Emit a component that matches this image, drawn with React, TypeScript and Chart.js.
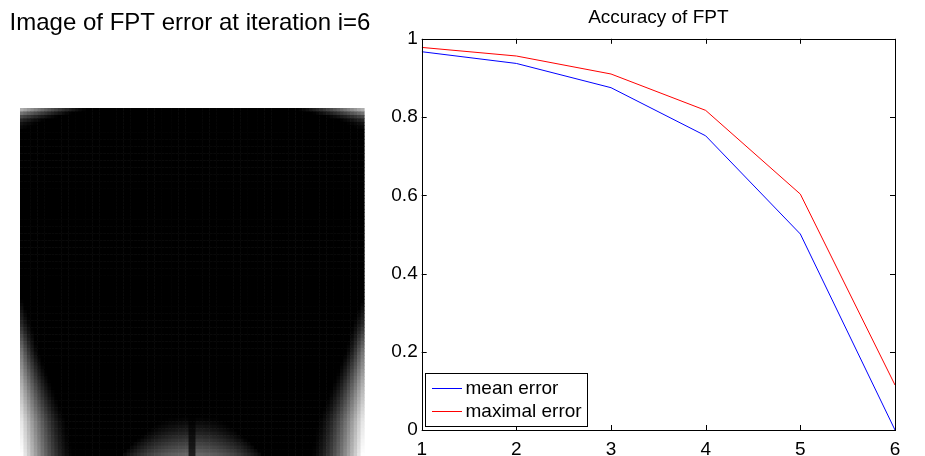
import React, { useEffect, useRef } from "react";
import { Chart, registerables } from "chart.js";

Chart.register(...registerables);

const FONT = "'Liberation Sans', Arial, Helvetica, sans-serif";

// ---- right panel data ----
const iterations = [1, 2, 3, 4, 5, 6];
const meanError = [0.967, 0.937, 0.875, 0.752, 0.501, 0.0];
const maximalError = [0.978, 0.956, 0.91, 0.817, 0.603, 0.115];
const xTicks = [1, 2, 3, 4, 5, 6];
const yTicks = [0, 0.2, 0.4, 0.6, 0.8, 1];
const seriesLabels = ["mean error", "maximal error"];
const seriesColors = ["#0000ff", "#ff0000"];
const leftTitle = "Image of FPT error at iteration i=6";
const rightTitle = "Accuracy of FPT";

// ---- left panel image (grey levels) ----
const imageCols = 100;
const imageRows = 100;
// glow along left/right edges: at row -> edge grey level, reach in cells
const sideGlowRow = [0, 55, 62, 70, 80, 90, 100];
const sideGlowPeak = [0, 0, 0.15, 0.45, 0.7, 0.9, 1.0];
const sideGlowReach = [0, 0, 3, 5, 9, 13, 15];
// glow in the two top corners: per top row -> grey level, reach in cells
const topGlowPeak = [0.68, 0.45, 0.28, 0.15, 0.07, 0.03];
const topGlowReach = [19, 15, 11, 7, 5, 3];
// glow at the bottom centre
const bottomGlowRow = [89, 93, 97, 100];
const bottomGlowPeak = [0, 0.12, 0.28, 0.42];
const bottomGlowHalf = [8, 13, 18, 21];
const bottomGlowCenter = 50;

function interp(xs: number[], ys: number[], v: number) {
  if (v <= xs[0]) return ys[0];
  for (let i = 1; i < xs.length; i++) {
    if (v <= xs[i]) {
      const t = (v - xs[i - 1]) / (xs[i] - xs[i - 1]);
      return ys[i - 1] + t * (ys[i] - ys[i - 1]);
    }
  }
  return ys[ys.length - 1];
}

function cellGrey(r: number, c: number) {
  let b = 0;
  const rc = r + 0.5;
  const dEdge = Math.min(c, imageCols - 1 - c);
  const peak = interp(sideGlowRow, sideGlowPeak, rc);
  const reach = interp(sideGlowRow, sideGlowReach, rc);
  if (reach > 0 && dEdge < reach) b = Math.max(b, peak * Math.pow(1 - dEdge / reach, 1.5));
  if (r < topGlowPeak.length) {
    const tr = topGlowReach[r];
    if (dEdge < tr) b = Math.max(b, topGlowPeak[r] * Math.pow(1 - dEdge / tr, 1.3));
  }
  const bp = interp(bottomGlowRow, bottomGlowPeak, rc);
  const bh = interp(bottomGlowRow, bottomGlowHalf, rc);
  const dc = Math.abs(c + 0.5 - bottomGlowCenter);
  if (bp > 0 && dc < bh) {
    let g = bp * (1 - Math.pow(dc / bh, 2));
    if (dc < 1) g *= 0.3;
    b = Math.max(b, g);
  }
  return b;
}

const errorImagePlugin = {
  id: "errorImage",
  beforeDatasetsDraw(chart: any) {
    const { ctx } = chart;
    const x = chart.scales.x;
    const y = chart.scales.y;
    ctx.save();
    for (let r = 0; r < imageRows; r++) {
      const y0 = y.getPixelForValue(r);
      const y1 = y.getPixelForValue(r + 1);
      for (let c = 0; c < imageCols; c++) {
        const x0 = x.getPixelForValue(c);
        const x1 = x.getPixelForValue(c + 1);
        const v = Math.round(255 * Math.min(1, cellGrey(r, c)));
        ctx.fillStyle = `rgb(${v},${v},${v})`;
        ctx.fillRect(x0, y0, x1 - x0 + 0.6, y1 - y0 + 0.6);
      }
    }
    ctx.restore();
  },
};

const frameTicksPlugin = {
  id: "frameTicks",
  afterDatasetsDraw(chart: any) {
    const { ctx, chartArea: ca } = chart;
    const x = chart.scales.x;
    const y = chart.scales.y;
    const L = 5;
    ctx.save();
    ctx.strokeStyle = "#000";
    ctx.lineWidth = 1;
    ctx.beginPath();
    xTicks.forEach((v) => {
      const px = Math.round(x.getPixelForValue(v)) + 0.5;
      ctx.moveTo(px, ca.bottom);
      ctx.lineTo(px, ca.bottom - L);
      ctx.moveTo(px, ca.top);
      ctx.lineTo(px, ca.top + L);
    });
    yTicks.forEach((v) => {
      const py = Math.round(y.getPixelForValue(v)) + 0.5;
      ctx.moveTo(ca.left, py);
      ctx.lineTo(ca.left + L, py);
      ctx.moveTo(ca.right, py);
      ctx.lineTo(ca.right - L, py);
    });
    ctx.stroke();
    ctx.strokeRect(
      Math.round(ca.left) + 0.5,
      Math.round(ca.top) + 0.5,
      Math.round(ca.right) - Math.round(ca.left),
      Math.round(ca.bottom) - Math.round(ca.top)
    );
    ctx.restore();
  },
  afterDraw(chart: any) {
    const { ctx, chartArea: ca } = chart;
    const items = chart.data.datasets.map((d: any) => ({ label: d.label, color: d.borderColor }));
    ctx.save();
    ctx.font = `19px ${FONT}`;
    const textW = Math.max(...items.map((it: any) => ctx.measureText(it.label).width));
    const rowH = 23.7;
    const boxW = Math.round(40 + textW + 6);
    const boxH = 53;
    const bx = Math.round(ca.left + 3.3) + 0.5;
    const by = Math.round(ca.bottom - 4 - boxH) + 0.5;
    ctx.fillStyle = "#fff";
    ctx.fillRect(bx, by, boxW, boxH);
    ctx.strokeStyle = "#000";
    ctx.lineWidth = 1;
    ctx.strokeRect(bx, by, boxW, boxH);
    items.forEach((it: any, i: number) => {
      const ly = Math.round(by + 14 + i * rowH);
      ctx.fillStyle = it.color;
      ctx.fillRect(Math.round(bx + 6), ly, 30, 1);
      ctx.fillStyle = "#000";
      ctx.textBaseline = "middle";
      ctx.textAlign = "left";
      ctx.fillText(it.label, bx + 40, ly + 0.5);
    });
    ctx.restore();
  },
};

export default function App() {
  const leftRef = useRef<HTMLCanvasElement>(null);
  const rightRef = useRef<HTMLCanvasElement>(null);

  useEffect(() => {
    const hiddenY = (w: number, pos: string) => ({
      type: "linear",
      position: pos,
      display: true,
      min: 0,
      max: imageRows,
      reverse: true,
      grid: { display: false, drawTicks: false },
      border: { display: false },
      ticks: { display: false },
      afterFit: (s: any) => {
        s.width = w;
      },
    });
    const left = new Chart(leftRef.current!, {
      type: "scatter",
      data: { datasets: [] },
      plugins: [errorImagePlugin],
      options: {
        animation: false,
        responsive: false,
        devicePixelRatio: 1,
        layout: { padding: 0 },
        plugins: {
          legend: { display: false },
          tooltip: { enabled: false },
          title: {
            display: true,
            text: leftTitle,
            color: "#000",
            font: { family: FONT, size: 24, weight: "normal" },
            padding: { top: 9, bottom: 70.2 },
          },
        },
        scales: {
          x: { type: "linear", display: false, min: 0, max: imageCols },
          y: hiddenY(20, "left"),
          y2: hiddenY(16, "right"),
        },
      } as any,
    });

    const right = new Chart(rightRef.current!, {
      type: "line",
      data: {
        datasets: [meanError, maximalError].map((vals, k) => ({
          label: seriesLabels[k],
          data: iterations.map((it, i) => ({ x: it, y: vals[i] })),
          borderColor: seriesColors[k],
          borderWidth: 1,
          pointRadius: 0,
          tension: 0,
          fill: false,
        })),
      },
      plugins: [frameTicksPlugin],
      options: {
        animation: false,
        responsive: false,
        devicePixelRatio: 1,
        layout: { padding: { left: 0, right: 30, top: 0, bottom: 0 } },
        plugins: {
          legend: { display: false },
          tooltip: { enabled: false },
          title: {
            display: true,
            fullSize: false,
            text: rightTitle,
            color: "#000",
            font: { family: FONT, size: 19, weight: "normal" },
            padding: { top: 6, bottom: 10 },
          },
        },
        scales: {
          x: {
            type: "linear",
            min: 1,
            max: 6,
            afterBuildTicks: (s: any) => {
              s.ticks = xTicks.map((v) => ({ value: v }));
            },
            grid: { display: false, drawTicks: false },
            border: { display: false },
            ticks: { color: "#000", font: { family: FONT, size: 19 }, padding: 8, maxRotation: 0 },
            afterFit: (s: any) => {
              s.height = 26;
            },
          },
          y: {
            type: "linear",
            min: 0,
            max: 1,
            afterBuildTicks: (s: any) => {
              s.ticks = yTicks.map((v) => ({ value: v }));
            },
            grid: { display: false, drawTicks: false },
            border: { display: false },
            ticks: {
              color: "#000",
              font: { family: FONT, size: 19 },
              padding: 4,
              callback: (v: any) => String(Number(Number(v).toFixed(1))),
            },
            afterFit: (s: any) => {
              s.width = 41.7;
            },
          },
        },
      } as any,
    });

    return () => {
      left.destroy();
      right.destroy();
    };
  }, []);

  return (
    <div style={{ position: "absolute", left: 0, top: 0, width: 925, height: 456, background: "#fff", overflow: "hidden" }}>
      <canvas ref={leftRef} width={380} height={456} style={{ position: "absolute", left: 0, top: 0, width: 380, height: 456 }} />
      <canvas ref={rightRef} width={545} height={456} style={{ position: "absolute", left: 380, top: 0, width: 545, height: 456 }} />
    </div>
  );
}
